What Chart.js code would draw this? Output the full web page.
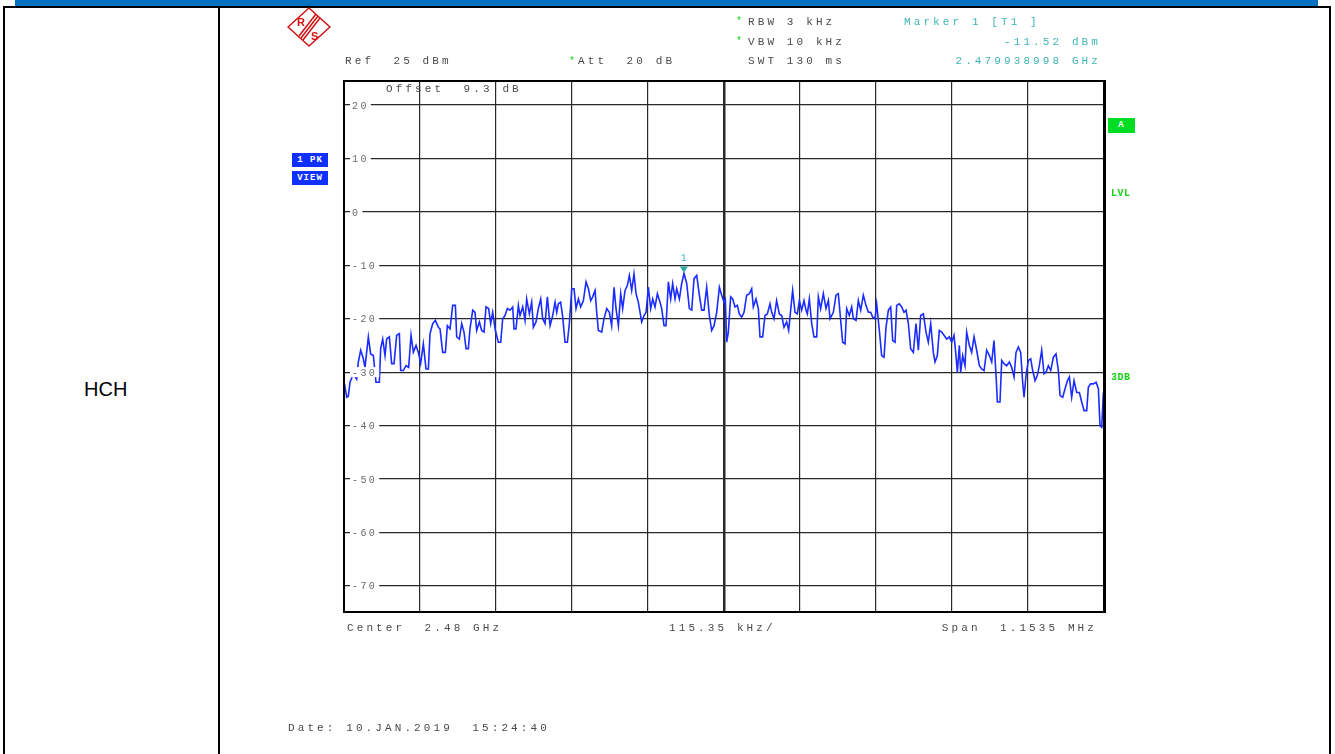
<!DOCTYPE html>
<html>
<head>
<meta charset="utf-8">
<script src="https://cdn.jsdelivr.net/npm/chart.js@4"></script>
<style>
  body { margin: 0; background: #fff; width: 1335px; height: 754px; overflow: hidden; position: relative; }
  #plot { position: absolute; left: 0; top: 0; }
  .t { position: absolute; font-family: "Liberation Mono", monospace; font-size: 11px; line-height: 12px;
       letter-spacing: 3.1px; color: #4a4a4a; white-space: pre; }
  .teal { color: #3fb5b5; }
  .star { color: #19d019; font-size: 10px; }
  .badge { position: absolute; background: #1030ff; color: #fff; font: bold 9px "Liberation Mono", monospace;
           letter-spacing: 1px; text-align: center; line-height: 14px; height: 14px; white-space: pre; }
  .green { position: absolute; color: #19d019; font: bold 10px "Liberation Mono", monospace; letter-spacing: 0.5px; }
  .line { position: absolute; background: #000; }
</style>
</head>
<body>
<!-- table frame -->
<div style="position:absolute;left:15px;top:0;width:1303px;height:6px;background:#0070c0"></div>
<div class="line" style="left:3px;top:6px;width:1328px;height:2px"></div>
<div class="line" style="left:3px;top:6px;width:2px;height:748px"></div>
<div class="line" style="left:218px;top:6px;width:2px;height:748px"></div>
<div class="line" style="left:1329px;top:6px;width:2px;height:748px"></div>
<div style="position:absolute;left:84px;top:378px;font:20px 'Liberation Sans',Arial,sans-serif;color:#000">HCH</div>

<canvas id="plot" width="1335" height="754"></canvas>

<!-- R&S logo -->
<svg style="position:absolute;left:286px;top:6px" width="46" height="42" viewBox="0 0 46 42">
  <g fill="none" stroke="#d01010" stroke-width="1.5">
    <path d="M23 2 L44 21 L23 40 L2 21 Z" stroke-linejoin="round"/>
    <path d="M32 10 L15 32"/><path d="M34 12 L17 34"/><path d="M30 8 L13 30"/>
  </g>
  <text x="11" y="20" fill="#d01010" font-family="Liberation Sans, sans-serif" font-size="11" font-weight="bold">R</text>
  <text x="25" y="34" fill="#d01010" font-family="Liberation Sans, sans-serif" font-size="11" font-weight="bold">S</text>
</svg>

<div class="t" style="left:345px;top:55px">Ref  25 dBm</div>
<div class="t" style="left:569px;top:55px"><span class="star">*</span>Att  20 dB</div>
<div class="t star" style="left:736px;top:16px">*</div>
<div class="t" style="left:748px;top:16px">RBW 3 kHz</div>
<div class="t star" style="left:736px;top:36px">*</div>
<div class="t" style="left:748px;top:36px">VBW 10 kHz</div>
<div class="t" style="left:748px;top:55px">SWT 130 ms</div>
<div class="t teal" style="left:904px;top:16px">Marker 1 [T1 ]</div>
<div class="t teal" style="right:234px;top:36px">-11.52 dBm</div>
<div class="t teal" style="right:234px;top:55px">2.479938998 GHz</div>
<div class="t" style="left:386px;top:83px">Offset  9.3 dB</div>
<div class="t" style="left:347px;top:622px">Center  2.48 GHz</div>
<div class="t" style="left:669px;top:622px">115.35 kHz/</div>
<div class="t" style="right:238px;top:622px">Span  1.1535 MHz</div>
<div class="t" style="left:288px;top:722px">Date: 10.JAN.2019  15:24:40</div>

<div class="badge" style="left:292px;top:153px;width:36px">1 PK</div>
<div class="badge" style="left:292px;top:171px;width:36px">VIEW</div>
<div class="badge" style="left:1108px;top:118px;width:27px;height:15px;background:#00dd22;line-height:15px">A</div>
<div class="green" style="left:1111px;top:188px">LVL</div>
<div class="green" style="left:1111px;top:372px">3DB</div>

<script>
// frequency offset from centre 2.48 GHz, kHz
const traceX = [
  -576, -572.7, -570.2, -567.6, -562.6, -557.5, -555.0, -551.4, -547.4, -544.9,
  -539.8, -536.3, -532.2, -528.2, -523.1, -521.1, -518.0, -514.5, -512.0, -507.9,
  -504.4, -500.8, -496.8, -492.7, -490.7, -486.7, -482.6, -478.6, -475.0, -471.5,
  -467.4, -463.9, -460.4, -456.3, -452.3, -448.7, -446.2, -442.1, -438.1, -433.5,
  -431.0, -427.0, -422.9, -419.9, -415.8, -411.8, -407.7, -405.7, -401.7, -398.1,
  -394.6, -391.5, -388.0, -385.5, -381.4, -377.9, -375.4, -371.3, -367.8, -364.2,
  -361.2, -357.2, -354.1, -351.1, -347.0, -342.5, -338.9, -335.9, -332.4, -328.8,
  -324.8, -320.7, -318.7, -315.7, -312.1, -309.6, -305.5, -302.0, -299.5, -295.4,
  -291.9, -289.3, -285.3, -281.8, -278.2, -275.2, -271.6, -268.1, -264.0, -260.0,
  -256.4, -253.9, -251.4, -247.9, -244.8, -241.3, -237.7, -234.7, -231.1, -227.6,
  -224.6, -221.0, -217.5, -213.4, -209.4, -205.8, -202.3, -199.3, -195.7, -193.2,
  -190.7, -185.6, -182.1, -178.0, -174.0, -170.5, -166.9, -163.9, -160.3, -156.8,
  -153.8, -150.2, -146.7, -143.6, -140.1, -136.6, -133.5, -130.0, -127.4, -124.9,
  -121.4, -118.3, -114.8, -111.3, -108.2, -104.7, -101.1, -97.1, -94.6, -91.0,
  -88.0, -84.4, -80.9, -77.9, -74.3, -71.8, -67.7, -64.2, -60.7, -56.6,
  -52.6, -49.0, -45.5, -41.4, -37.4, -33.9, -30.3, -26.3, -22.2, -18.7,
  -15.1, -11.1, -7.0, -3.5, 0.0, 2.0, 4.1, 6.6, 10.1, 13.2,
  16.7, 20.2, 23.3, 26.8, 30.4, 34.4, 38.5, 42.0, 44.5, 48.6,
  52.1, 54.6, 58.7, 62.2, 65.8, 69.8, 72.4, 75.9, 79.9, 84.0,
  87.5, 91.1, 95.1, 98.2, 101.2, 104.2, 107.8, 111.3, 114.4, 117.9,
  121.4, 124.5, 126.5, 129.5, 133.1, 136.6, 140.7, 143.2, 146.7, 150.8,
  154.8, 158.4, 160.9, 166.0, 170.0, 173.5, 177.1, 180.1, 183.7, 186.2,
  190.2, 193.8, 196.3, 200.4, 203.9, 207.5, 211.5, 215.5, 219.1, 222.6,
  225.7, 229.2, 231.7, 235.8, 239.3, 242.9, 245.9, 249.5, 253.0, 256.0,
  259.6, 262.1, 266.1, 269.7, 273.2, 276.3, 279.8, 283.3, 287.4, 291.4,
  295.0, 298.5, 302.6, 306.6, 310.1, 313.7, 317.7, 320.3, 323.8, 326.8,
  330.4, 333.9, 338.0, 342.0, 345.6, 349.1, 352.1, 354.2, 357.2, 359.2,
  362.3, 365.8, 368.3, 372.4, 375.9, 379.5, 383.5, 387.6, 391.1, 394.7,
  398.7, 402.8, 406.3, 409.8, 412.9, 414.9, 418.9, 421.5, 425.0, 429.0,
  433.1, 436.6, 440.2, 443.2, 446.8, 450.3, 453.3, 455.4, 458.4, 461.9,
  465.5, 468.5, 472.1, 475.6, 478.6, 482.2, 485.7, 488.8, 492.3, 495.9,
  499.9, 503.9, 507.5, 510.0, 514.1, 517.6, 521.2, 524.2, 527.7, 531.3,
  535.3, 539.4, 542.9, 546.5, 550.5, 553.0, 556.6, 560.6, 564.7, 568.2,
  570.7, 573.3, 575.8
];
// level, dBm
const traceY = [
  -32.2, -34.7, -34.5, -31.9, -30.3, -31.3, -28.1, -25.9, -27.5, -29.1,
  -23.4, -26.6, -26.9, -31.9, -31.9, -25.6, -23.8, -26.9, -23.8, -23.4,
  -28.4, -28.4, -23.1, -22.8, -29.7, -29.7, -28.8, -29.1, -23.1, -26.3,
  -25.0, -26.3, -28.4, -24.7, -29.4, -29.4, -22.8, -20.9, -20.3, -21.6,
  -21.9, -26.3, -26.3, -21.3, -21.9, -17.5, -17.5, -23.4, -23.8, -20.9,
  -22.5, -25.6, -25.6, -21.9, -18.4, -18.8, -22.2, -20.6, -22.2, -22.5,
  -17.8, -18.1, -20.9, -18.8, -22.2, -24.4, -24.4, -20.0, -19.4, -18.1,
  -18.4, -17.8, -21.9, -21.9, -17.5, -19.4, -17.8, -20.3, -16.3, -19.1,
  -16.9, -21.6, -20.6, -18.1, -16.3, -20.0, -20.9, -15.9, -21.3, -19.4,
  -16.9, -18.8, -17.2, -16.9, -19.7, -24.4, -24.4, -20.9, -14.4, -14.4,
  -18.1, -16.3, -17.8, -16.6, -13.1, -14.4, -16.6, -15.9, -14.7, -18.8,
  -22.2, -22.5, -20.0, -18.1, -18.8, -21.3, -14.1, -18.1, -21.3, -15.3,
  -18.1, -14.7, -13.8, -11.9, -14.7, -11.6, -15.3, -16.9, -18.8, -20.6,
  -19.4, -18.8, -14.1, -18.1, -16.3, -17.8, -15.3, -16.9, -18.1, -21.3,
  -21.3, -13.1, -16.3, -13.4, -16.3, -14.4, -16.3, -13.4, -11.5, -13.4,
  -18.1, -18.4, -12.5, -11.9, -15.6, -18.4, -18.4, -14.1, -19.4, -22.2,
  -21.3, -18.8, -14.1, -15.6, -16.9, -16.4, -24.4, -22.5, -15.9, -16.3,
  -17.8, -17.5, -19.1, -19.7, -18.8, -15.6, -15.3, -14.4, -17.8, -16.3,
  -18.1, -23.4, -23.4, -19.4, -19.1, -17.2, -18.8, -20.0, -16.6, -19.1,
  -19.4, -21.6, -20.6, -22.2, -18.4, -14.7, -18.8, -19.1, -16.6, -18.4,
  -16.6, -18.4, -19.1, -16.3, -20.9, -23.4, -23.4, -15.9, -18.1, -15.3,
  -18.1, -16.6, -20.0, -18.8, -15.6, -15.3, -20.3, -24.4, -24.7, -18.1,
  -19.4, -17.8, -20.0, -20.3, -16.6, -18.4, -15.6, -17.5, -18.8, -18.8,
  -19.7, -20.0, -17.2, -22.2, -26.9, -27.2, -21.6, -18.4, -17.8, -24.1,
  -24.4, -17.5, -17.2, -17.8, -18.8, -18.4, -20.9, -25.6, -26.3, -20.9,
  -25.9, -19.4, -19.1, -22.5, -24.4, -20.9, -26.3, -28.1, -26.9, -22.2,
  -22.5, -23.1, -23.8, -23.4, -24.4, -23.1, -26.9, -30.0, -25.0, -30.0,
  -26.9, -28.8, -22.5, -25.0, -26.3, -23.4, -25.9, -28.8, -29.4, -29.7,
  -25.9, -26.9, -28.1, -24.1, -30.6, -35.6, -35.6, -27.8, -28.4, -28.8,
  -28.1, -29.1, -30.9, -26.3, -25.3, -26.3, -31.9, -34.7, -30.6, -27.8,
  -27.5, -29.7, -31.6, -30.6, -28.8, -25.9, -30.3, -30.0, -28.8, -29.7,
  -27.2, -26.6, -29.7, -34.4, -34.7, -33.1, -31.6, -30.9, -34.7, -31.6,
  -33.8, -33.8, -35.6, -37.2, -37.2, -32.8, -32.2, -32.2, -31.9, -33.1,
  -40.0, -40.3, -33.8
];
const yTicks = [20, 10, 0, -10, -20, -30, -40, -50, -60, -70];
const xTicks = [-576.75, -461.4, -346.05, -230.7, -115.35, 0, 115.35, 230.7, 346.05, 461.4, 576.75];
const markerFreq = -61.0;   // 2.479938998 GHz
const markerLevel = -11.52;

const framePlugin = {
  id: "frame",
  afterDraw(chart) {
    const { ctx, chartArea: a, scales } = chart;
    ctx.save();
    // y labels sitting on the grid lines
    ctx.font = "10px 'Liberation Mono', monospace";
    ctx.letterSpacing = "2.4px";
    ctx.textBaseline = "middle";
    yTicks.forEach(v => {
      const y = scales.y.getPixelForValue(v);
      const txt = String(v);
      const w = ctx.measureText(txt).width;
      ctx.fillStyle = "#fff";
      ctx.fillRect(a.left + 6, y - 5, w + 4, 10);
      ctx.fillStyle = "#6a6a6a";
      ctx.fillText(txt, a.left + 8, y + 1);
    });
    // outer frame
    ctx.strokeStyle = "#000";
    ctx.lineWidth = 2;
    ctx.strokeRect(a.left, a.top, a.right - a.left, a.bottom - a.top);
    ctx.fillStyle = "#000";
    ctx.fillRect(a.right, a.top - 1, 2, a.bottom - a.top + 2);
    // marker 1
    const mx = scales.x.getPixelForValue(markerFreq);
    const my = scales.y.getPixelForValue(markerLevel);
    ctx.fillStyle = "#2aa6a6";
    ctx.beginPath();
    ctx.moveTo(mx - 4, my - 7);
    ctx.lineTo(mx + 4, my - 7);
    ctx.lineTo(mx, my - 1);
    ctx.closePath();
    ctx.fill();
    ctx.letterSpacing = "0px";
    ctx.font = "10px 'Liberation Mono', monospace";
    ctx.textAlign = "center";
    ctx.fillStyle = "#3fb5b5";
    ctx.fillText("1", mx, my - 15);
    ctx.restore();
  }
};

new Chart(document.getElementById("plot"), {
  type: "line",
  data: {
    datasets: [{
      data: traceX.map((x, i) => ({ x: x, y: traceY[i] })),
      borderColor: "#1a2cff",
      borderWidth: 1.6,
      pointRadius: 0,
      tension: 0
    }]
  },
  options: {
    responsive: false,
    animation: false,
    layout: { padding: { left: 344, top: 81, right: 231, bottom: 142 } },
    plugins: { legend: { display: false }, tooltip: { enabled: false } },
    scales: {
      x: {
        type: "linear",
        min: -576.75,
        max: 576.75,
        afterBuildTicks: axis => { axis.ticks = xTicks.map(v => ({ value: v })); },
        ticks: { display: false },
        grid: {
          drawTicks: false,
          color: "#2a2a2a",
          lineWidth: c => (c.tick && c.tick.value === 0 ? 2.5 : 1.2)
        },
        border: { display: false }
      },
      y: {
        min: -74.9,
        max: 24.5,
        afterBuildTicks: axis => { axis.ticks = yTicks.map(v => ({ value: v })); },
        ticks: { display: false },
        grid: { drawTicks: false, color: "#2a2a2a", lineWidth: 1.2 },
        border: { display: false }
      }
    }
  },
  plugins: [framePlugin]
});
</script>
</body>
</html>
